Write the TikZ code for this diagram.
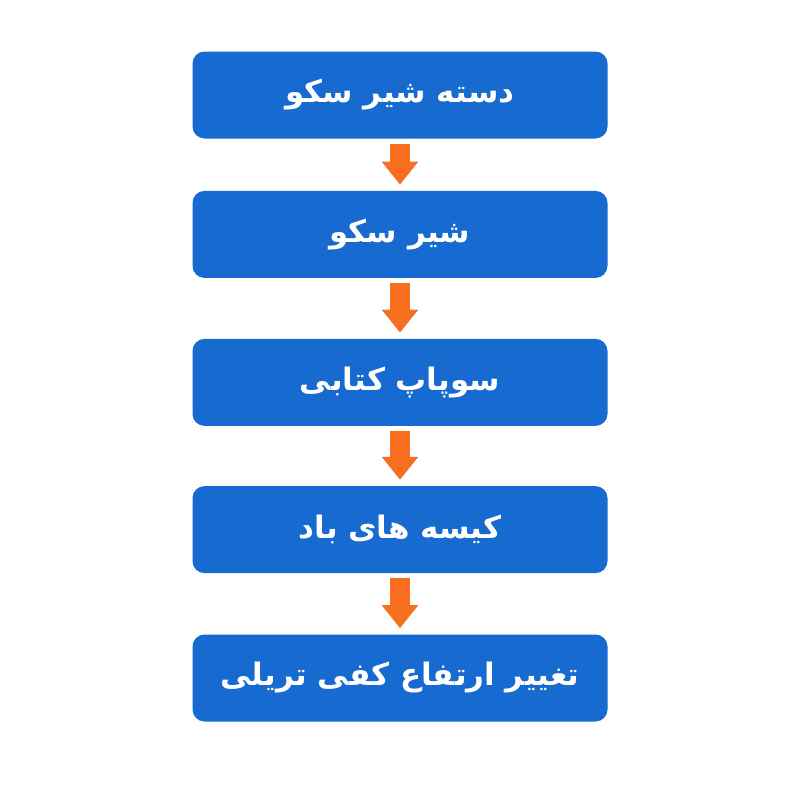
\documentclass[tikz,border=0pt]{standalone}
\usepackage{fontspec}
\usetikzlibrary{arrows.meta}
\newfontfamily\arabicfont[Script=Arabic]{DejaVu Sans}
\TeXXeTstate=1

\definecolor{boxblue}{RGB}{22,106,208}
\definecolor{arrorange}{RGB}{246,110,30}

\tikzset{
  stepbox/.style={fill=boxblue, rounded corners=0.3cm, minimum width=10.375cm,
    minimum height=2.175cm, inner sep=0pt, text=white,
    font=\arabicfont\bfseries\fontsize{22}{26}\selectfont},
  flow/.style={draw=arrorange, line width=0.5cm,
    -{Triangle[length=0.575cm,width=0.875cm]},
    shorten <=0.12cm, shorten >=0.15cm}
}

\begin{document}
\begin{tikzpicture}

\useasboundingbox (0,0) rectangle (20,-20);
\fill[white] (0,0) rectangle (20,-20);

% boxes, top to bottom:
\node[stepbox] (b1) at (10,-2.375) {\beginR دسته شیر سکو\endR};
\node[stepbox] (b2) at (10,-5.86)  {\beginR شیر سکو\endR};
\node[stepbox] (b3) at (10,-9.56)  {\beginR سوپاپ کتابی\endR};
\node[stepbox] (b4) at (10,-13.24) {\beginR کیسه های باد\endR};
\node[stepbox] (b5) at (10,-16.95) {\beginR تغییر ارتفاع کفی تریلی\endR};

% arrows:
\draw[flow] (b1) -- (b2);
\draw[flow] (b2) -- (b3);
\draw[flow] (b3) -- (b4);
\draw[flow] (b4) -- (b5);

\end{tikzpicture}
\end{document}
